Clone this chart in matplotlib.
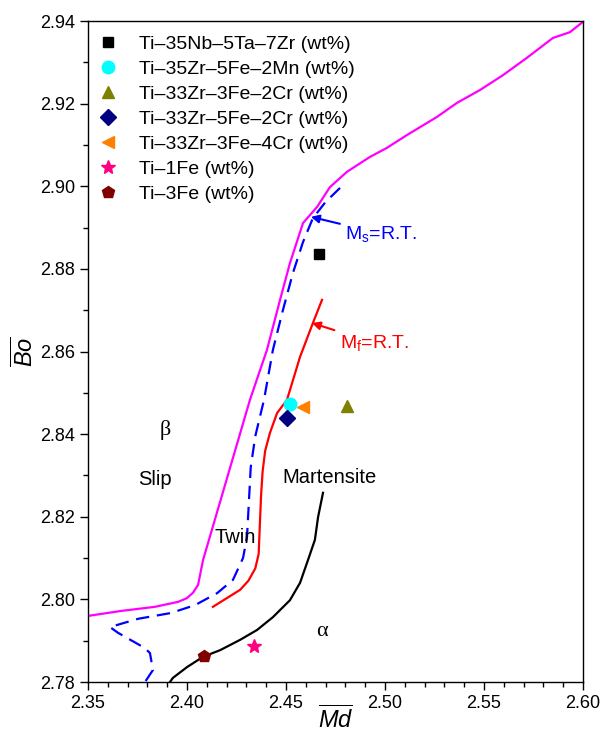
import matplotlib
matplotlib.use("Agg")
import matplotlib.pyplot as plt
from matplotlib.ticker import MultipleLocator

plt.rcParams.update({
    "font.family": ["Liberation Sans", "DejaVu Sans"],
    "mathtext.fontset": "custom",
    "mathtext.rm": "Liberation Sans",
    "mathtext.it": "Liberation Sans:italic",
    "axes.linewidth": 1.0,
})

# slip / twin boundary (magenta)
slip_md = [2.3500, 2.3667, 2.3838, 2.3955, 2.4000, 2.4030, 2.4056, 2.4071, 2.4081, 2.4318,
           2.4404, 2.4470, 2.4520, 2.4586, 2.4657, 2.4722, 2.4808, 2.4924, 2.5010, 2.5111,
           2.5263, 2.5364, 2.5480, 2.5596, 2.5717, 2.5848, 2.5934, 2.6000]
slip_bo = [2.7960, 2.7972, 2.7982, 2.7994, 2.8003, 2.8016, 2.8035, 2.8071, 2.8095, 2.8483,
           2.8604, 2.8725, 2.8814, 2.8911, 2.8950, 2.8998, 2.9035, 2.9071, 2.9093, 2.9124,
           2.9168, 2.9202, 2.9233, 2.9269, 2.9311, 2.9359, 2.9373, 2.9398]

# Ms = R.T. (blue dashed)
ms_md = [2.4773, 2.4700, 2.4636, 2.4586, 2.4535, 2.4485, 2.4434, 2.4389, 2.4345, 2.4322,
         2.4312, 2.4303, 2.4283, 2.4232, 2.4152, 2.4040, 2.3919, 2.3753, 2.3611, 2.3652,
         2.3788, 2.3813, 2.3828, 2.3788]
ms_bo = [2.8996, 2.8962, 2.8923, 2.8865, 2.8790, 2.8701, 2.8604, 2.8483, 2.8395, 2.8320,
         2.8230, 2.8150, 2.8100, 2.8047, 2.8015, 2.7986, 2.7967, 2.7953, 2.7933, 2.7919,
         2.7882, 2.7870, 2.7829, 2.7800]

# Mf = R.T. (red)
mf_md = [2.4682, 2.4636, 2.4571, 2.4505, 2.4455, 2.4419, 2.4395, 2.4382, 2.4374, 2.4368,
         2.4362, 2.4345, 2.4310, 2.4268, 2.4131]
mf_bo = [2.8725, 2.8669, 2.8587, 2.8483, 2.8451, 2.8403, 2.8360, 2.8310, 2.8250, 2.8180,
         2.8110, 2.8075, 2.8045, 2.8023, 2.7982]

# martensite / alpha boundary (black)
alpha_md = [2.4687, 2.4662, 2.4646, 2.4611, 2.4571, 2.4520, 2.4434, 2.4354, 2.4268, 2.4167,
            2.4081, 2.4000, 2.3929, 2.3914]
alpha_bo = [2.8258, 2.8199, 2.8144, 2.8095, 2.8040, 2.7998, 2.7957, 2.7926, 2.7902, 2.7877,
            2.7861, 2.7836, 2.7810, 2.7800]

alloys = ["Ti\u201335Nb\u20135Ta\u20137Zr (wt%)", "Ti\u201335Zr\u20135Fe\u20132Mn (wt%)",
          "Ti\u201333Zr\u20133Fe\u20132Cr (wt%)", "Ti\u201333Zr\u20135Fe\u20132Cr (wt%)",
          "Ti\u201333Zr\u20133Fe\u20134Cr (wt%)", "Ti\u20131Fe (wt%)", "Ti\u20133Fe (wt%)"]
alloy_md = [2.4667, 2.4522, 2.4808, 2.4505, 2.4586, 2.4338, 2.4086]
alloy_bo = [2.8836, 2.8473, 2.8468, 2.8439, 2.8466, 2.7887, 2.7863]
alloy_marker = ["s", "o", "^", "D", "<", "*", "p"]
alloy_color = ["#000000", "#00FFFF", "#808000", "#000080", "#FF8000", "#FF0080", "#800000"]
alloy_size = [7, 9, 9, 8, 9, 10, 9]

fig = plt.figure(figsize=(6.01, 7.35), dpi=100)
ax = fig.add_axes([0.1464, 0.0721, 0.8236, 0.8993])

ax.plot(slip_md, slip_bo, color="#FF00FF", lw=1.6)
ax.plot(ms_md, ms_bo, color="#0000FF", lw=1.6, dashes=(6, 3.5))
ax.plot(mf_md, mf_bo, color="#FF0000", lw=1.6)
ax.plot(alpha_md, alpha_bo, color="#000000", lw=1.6)

for name, x, y, m, c, s in zip(alloys, alloy_md, alloy_bo, alloy_marker, alloy_color, alloy_size):
    ax.plot(x, y, ls="none", marker=m, color=c, ms=s, mec=c, label=name)

ax.legend(loc="upper left", bbox_to_anchor=(-0.006, 0.999), frameon=False, fontsize=14,
          handlelength=1.0, handletextpad=1.1, labelspacing=0.38, borderaxespad=0.3)

# boundary annotations
ax.annotate("M$_\\mathrm{s}$=R.T.", xy=(2.4626, 2.8926), xytext=(2.4800, 2.8885),
            color="#0000FF", fontsize=14, va="center",
            arrowprops=dict(arrowstyle="-|>", color="#0000FF", lw=1.5, shrinkA=2, shrinkB=0,
                            mutation_scale=12))
ax.annotate("M$_\\mathrm{f}$=R.T.", xy=(2.4631, 2.8669), xytext=(2.4772, 2.8621),
            color="#FF0000", fontsize=14, va="center",
            arrowprops=dict(arrowstyle="-|>", color="#FF0000", lw=1.5, shrinkA=2, shrinkB=0,
                            mutation_scale=12))

ax.text(2.3889, 2.8410, "\u03b2", fontsize=16, family=["Liberation Serif"], ha="center", va="center")
ax.text(2.4682, 2.7922, "\u03b1", fontsize=16, family=["Liberation Serif"], ha="center", va="center")
ax.text(2.3838, 2.8289, "Slip", fontsize=14.5, ha="center", va="center")
ax.text(2.4242, 2.8149, "Twin", fontsize=14.5, ha="center", va="center")
ax.text(2.4722, 2.8294, "Martensite", fontsize=14.5, ha="center", va="center")

ax.set_xlim(2.35, 2.60)
ax.set_ylim(2.78, 2.94)
ax.xaxis.set_major_locator(MultipleLocator(0.05))
ax.xaxis.set_minor_locator(MultipleLocator(0.01))
ax.yaxis.set_major_locator(MultipleLocator(0.02))
ax.yaxis.set_minor_locator(MultipleLocator(0.01))
ax.xaxis.set_major_formatter(lambda v, p: f"{v:.2f}")
ax.yaxis.set_major_formatter(lambda v, p: f"{v:.2f}")
ax.tick_params(which="major", direction="out", length=6, width=1, labelsize=13)
ax.tick_params(which="minor", direction="out", length=3.5, width=1)

ax.set_xlabel("$\\overline{Md}$", fontsize=17, labelpad=-4)
ax.set_ylabel("$\\overline{Bo}$", fontsize=17, labelpad=1)

fig.savefig("out.png", dpi=100, facecolor="white")
